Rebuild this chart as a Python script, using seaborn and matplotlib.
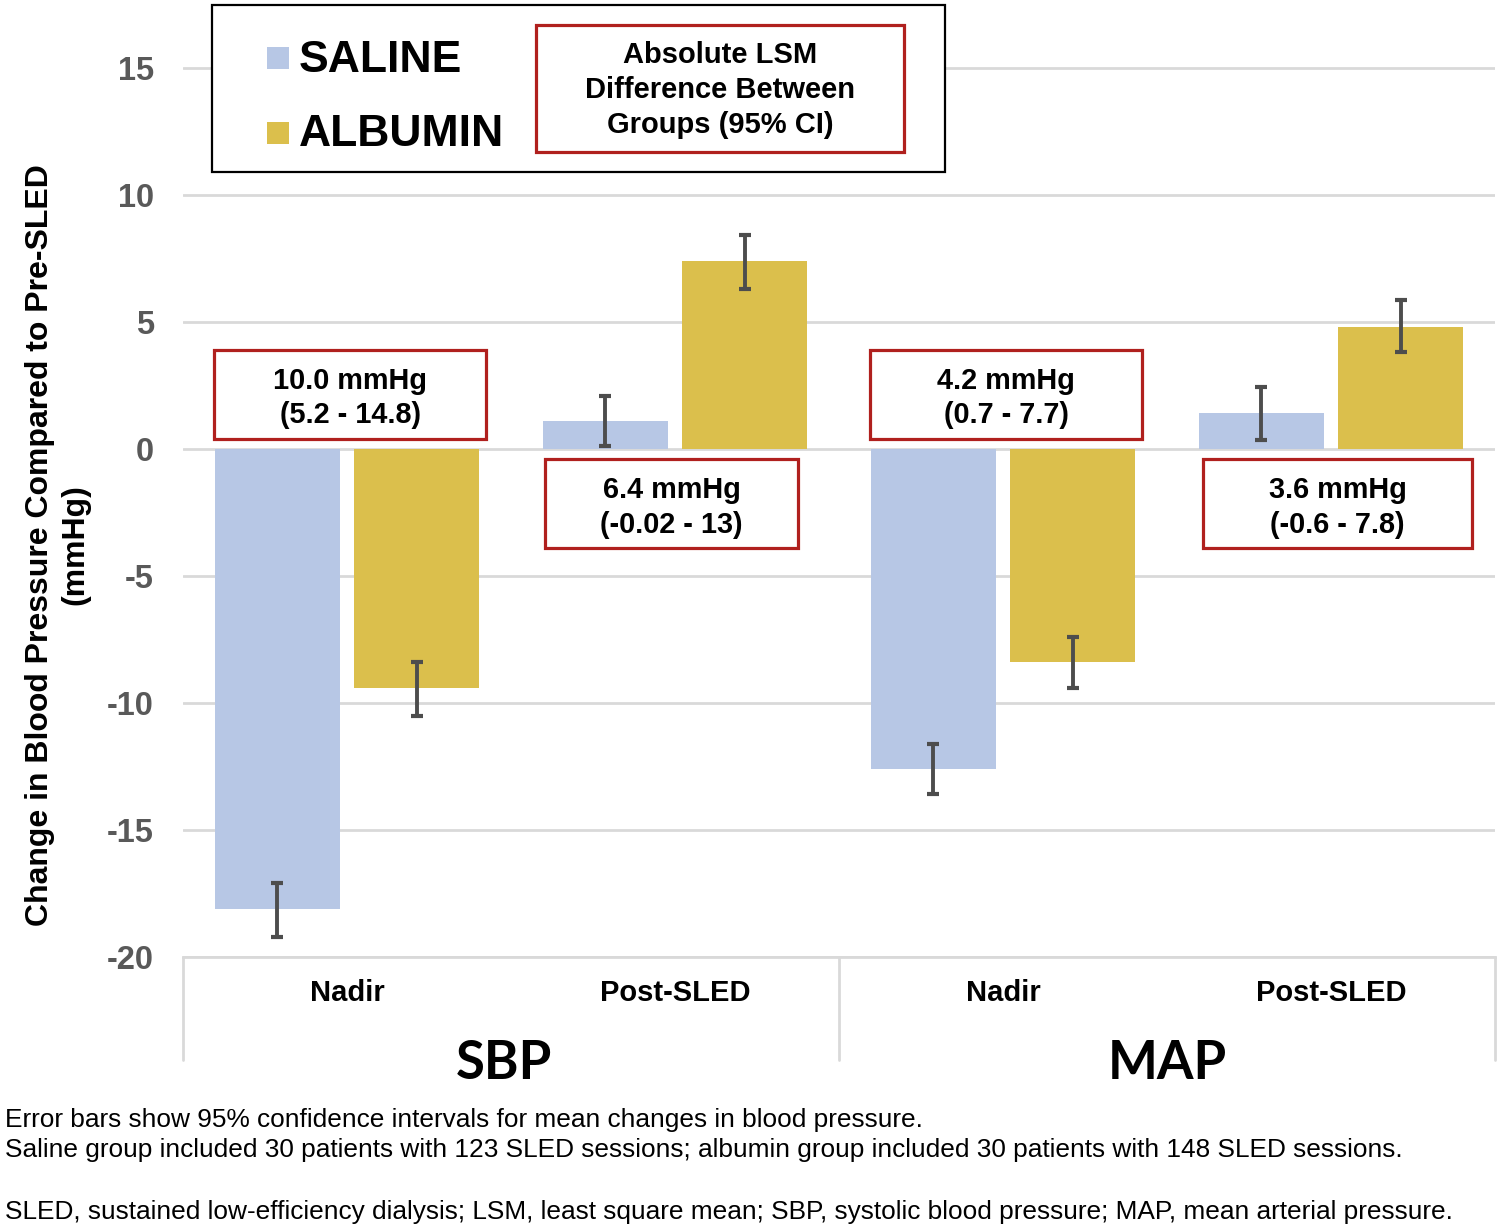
import matplotlib
matplotlib.use("Agg")
import matplotlib.pyplot as plt
import matplotlib.transforms as mtransforms
from matplotlib.patches import Rectangle
import seaborn as sns
import pandas as pd
import numpy as np

# values (mmHg)
measures = ["SBP", "SBP", "MAP", "MAP"]
timepoints = ["Nadir", "Post-SLED", "Nadir", "Post-SLED"]
saline_mean = [-18.1, 1.1, -12.6, 1.4]
saline_lo = [-19.2, 0.1, -13.6, 0.35]
saline_hi = [-17.1, 2.1, -11.6, 2.45]
albumin_mean = [-9.4, 7.4, -8.4, 4.8]
albumin_lo = [-10.5, 6.3, -9.4, 3.8]
albumin_hi = [-8.4, 8.4, -7.4, 5.85]
diff_labels = ["10.0 mmHg\n(5.2 - 14.8)", "6.4 mmHg\n(-0.02 - 13)",
               "4.2 mmHg\n(0.7 - 7.7)", "3.6 mmHg\n(-0.6 - 7.8)"]
footnotes = [
    "Error bars show 95% confidence intervals for mean changes in blood pressure.",
    "Saline group included 30 patients with 123 SLED sessions; albumin group included 30 patients with 148 SLED sessions.",
    "SLED, sustained low-efficiency dialysis; LSM, least square mean; SBP, systolic blood pressure; MAP, mean arterial pressure.",
]

SALINE_C = "#B7C7E5"
ALBUMIN_C = "#DBBF4C"
RED = "#B0201E"
GRID = "#D9D9D9"

sns.set_style("white")
plt.rcParams["font.family"] = ["Liberation Sans", "DejaVu Sans"]
plt.rcParams["text.color"] = "black"
plt.rcParams["xtick.color"] = "black"

cats = [f"{m} {t}" for m, t in zip(measures, timepoints)]
df = pd.DataFrame({
    "cat": cats * 2,
    "group": ["SALINE"] * 4 + ["ALBUMIN"] * 4,
    "value": saline_mean + albumin_mean,
})

W, H = 1499, 1230
fig = plt.figure(figsize=(W / 100, H / 100), dpi=100)
ax = fig.add_axes([183 / W, 1 - 957 / H, (1495 - 183) / W, (957 - 17) / H])

sns.barplot(data=df, x="cat", y="value", hue="group", order=cats,
            hue_order=["SALINE", "ALBUMIN"], palette=[SALINE_C, ALBUMIN_C],
            saturation=1, width=0.85, gap=0.1, linewidth=0, errorbar=None,
            legend=False, ax=ax, zorder=2)

# error bars at the bar centres
for cont, mean, lo, hi in zip(ax.containers, [saline_mean, albumin_mean],
                              [saline_lo, albumin_lo], [saline_hi, albumin_hi]):
    xs = [p.get_x() + p.get_width() / 2 for p in cont.patches]
    mean, lo, hi = np.array(mean), np.array(lo), np.array(hi)
    ax.errorbar(xs, mean, yerr=[mean - lo, hi - mean], fmt="none",
                ecolor="#4D4D4D", elinewidth=2.8, capsize=4.5, capthick=3, zorder=3)

ax.set_ylim(-20, 17)
ax.set_xlim(-0.5, 3.5)
ax.set_yticks(range(-20, 16, 5))
ax.set_yticklabels([str(v) for v in range(-20, 16, 5)], fontsize=23.5,
                   fontweight="bold", color="#595959")
ax.tick_params(axis="y", length=0, pad=21)
ax.set_xticks(range(4))
ax.set_xticklabels(timepoints, fontsize=21, fontweight="bold", color="black")
ax.tick_params(axis="x", length=0, pad=16)
ax.set_xlabel("")
ax.set_ylabel("")
ax.grid(axis="y", color=GRID, linewidth=2, zorder=0)
ax.set_axisbelow(True)
for s in ["top", "right", "left"]:
    ax.spines[s].set_visible(False)
ax.spines["bottom"].set_color(GRID)
ax.spines["bottom"].set_linewidth(2)

# group separators and group labels below the axis
trans = mtransforms.blended_transform_factory(ax.transData, ax.transAxes)
for xv in [-0.5, 1.5, 3.5]:
    ax.plot([xv, xv], [0, -0.11], color=GRID, lw=2, transform=trans, clip_on=False)
for xv, lab in [(0.48, "SBP"), (2.5, "MAP")]:
    ax.text(xv, -0.113, lab, transform=trans, ha="center", va="center",
            fontsize=38, fontweight="bold", family=["Lato", "Liberation Sans"])

# difference boxes
box_pos = [(0.01, 2.15, 0.83), (0.99, -2.15, 0.77), (2.01, 2.15, 0.83), (3.02, -2.15, 0.82)]
for (cx, cy, bw), lab in zip(box_pos, diff_labels):
    ax.add_patch(Rectangle((cx - bw / 2, cy - 1.75), bw, 3.5, facecolor="white",
                           edgecolor=RED, lw=2.3, zorder=4))
    ax.text(cx, cy - 0.15, lab, ha="center", va="center", fontsize=20.8,
            fontweight="bold", linespacing=1.3, zorder=5)

# legend box
fig.add_artist(Rectangle((212 / W, 1 - 172 / H), (945 - 212) / W, 167 / H,
                         transform=fig.transFigure, facecolor="white",
                         edgecolor="black", lw=1.6, zorder=5))
fig.add_artist(Rectangle((536 / W, 1 - 152 / H), (904 - 536) / W, 127 / H,
                         transform=fig.transFigure, facecolor="white",
                         edgecolor=RED, lw=2.3, zorder=6))
for ypx, col, lab in [(58, SALINE_C, "SALINE"), (133, ALBUMIN_C, "ALBUMIN")]:
    fig.add_artist(Rectangle((267 / W, 1 - (ypx + 11) / H), 22 / W, 22 / H,
                             transform=fig.transFigure, facecolor=col,
                             edgecolor="none", zorder=6))
    fig.text(299 / W, 1 - (ypx + 2) / H, lab, ha="left", va="center", fontsize=32,
             fontweight="bold", zorder=7)
fig.text(720 / W, 1 - 90 / H, "Absolute LSM\nDifference Between\nGroups (95% CI)",
         ha="center", va="center", fontsize=21, fontweight="bold",
         linespacing=1.3, zorder=7)

# y label
fig.text(58 / W, 1 - 545 / H, "Change in Blood Pressure Compared to Pre-SLED\n(mmHg)",
         rotation=90, ha="center", va="center", fontsize=23, fontweight="bold",
         linespacing=1.25, multialignment="center")

# footnotes
for ypx, txt in zip([1120, 1150, 1212], footnotes):
    fig.text(5 / W, 1 - ypx / H, txt, ha="left", va="center", fontsize=18.9)

fig.savefig("out.png", dpi=100)
